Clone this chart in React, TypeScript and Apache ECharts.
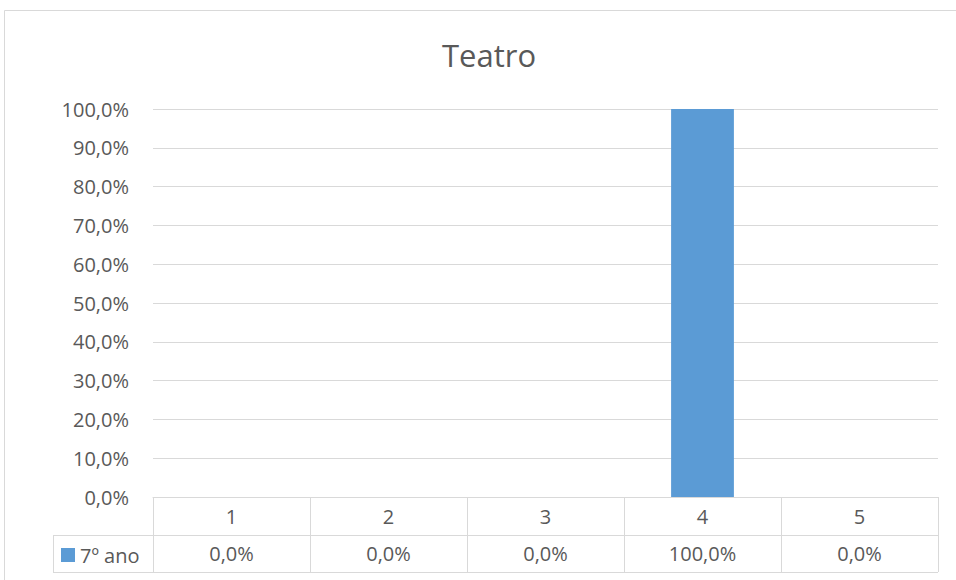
import React, { useEffect, useRef } from "react";
import * as echarts from "echarts";

const title = "Teatro";
const categories = ["1", "2", "3", "4", "5"];
const seriesName = "7º ano";
const values = [0, 0, 0, 1, 0];
const yTicks = [0, 0.1, 0.2, 0.3, 0.4, 0.5, 0.6, 0.7, 0.8, 0.9, 1];

const TEXT = "#595959";
const LINE = "#d9d9d9";
const BAR = "#5b9bd5";
const FONT = "Open Sans";

const fmt = (v: number) => (v * 100).toFixed(1).replace(".", ",") + "%";

export default function App() {
  const ref = useRef<HTMLDivElement>(null);
  useEffect(() => {
    if (!ref.current) return;
    const chart = echarts.init(ref.current, undefined, { renderer: "svg" });
    chart.setOption({
      animation: false,
      backgroundColor: "#ffffff",
      textStyle: { fontFamily: FONT },
      title: {
        text: title,
        left: 437,
        top: 34,
        textStyle: { fontFamily: FONT, fontSize: 31, fontWeight: "normal", color: TEXT },
      },
      legend: {
        left: 61,
        top: 545,
        padding: 0,
        icon: "rect",
        itemWidth: 14,
        itemHeight: 14,
        itemGap: 5,
        textStyle: { fontFamily: FONT, fontSize: 20, color: TEXT, padding: [0, 0, 0, 0] },
        data: [seriesName],
      },
      grid: { left: 153, right: 18, top: 109, bottom: 83 },
      xAxis: [
        {
          type: "category",
          data: categories,
          boundaryGap: true,
          axisLine: { show: true, lineStyle: { color: LINE, width: 1 } },
          axisTick: { show: true, length: 75, lineStyle: { color: LINE, width: 1 } },
          axisLabel: {
            fontFamily: FONT,
            fontSize: 20,
            color: TEXT,
            verticalAlign: "middle",
            margin: 19,
          },
        },
        {
          type: "category",
          data: categories,
          position: "bottom",
          boundaryGap: true,
          axisLine: { show: false },
          axisTick: { show: false },
          axisLabel: {
            fontFamily: FONT,
            fontSize: 20,
            color: TEXT,
            verticalAlign: "middle",
            margin: 56,
            formatter: (_v: string, i: number) => fmt(values[i]),
          },
        },
      ],
      yAxis: {
        type: "value",
        min: yTicks[0],
        max: yTicks[yTicks.length - 1],
        interval: 0.1,
        axisLine: { show: false },
        axisTick: { show: false },
        splitLine: { lineStyle: { color: LINE, width: 1 } },
        axisLabel: {
          fontFamily: FONT,
          fontSize: 20,
          color: TEXT,
          margin: 24,
          formatter: (v: number) => fmt(v),
        },
      },
      series: [
        {
          name: seriesName,
          type: "bar",
          data: values,
          barWidth: "40%",
          itemStyle: { color: BAR },
        },
      ],
      graphic: [
        {
          type: "rect",
          shape: { x: 4.5, y: 10.5, width: 1000, height: 1000 },
          style: { fill: "none", stroke: LINE, lineWidth: 1 },
          silent: true,
          z: -1,
        },
        {
          type: "line",
          shape: { x1: 53, y1: 535.5, x2: 938, y2: 535.5 },
          style: { stroke: LINE, lineWidth: 1 },
          silent: true,
        },
        {
          type: "line",
          shape: { x1: 53, y1: 572.5, x2: 938, y2: 572.5 },
          style: { stroke: LINE, lineWidth: 1 },
          silent: true,
        },
        {
          type: "line",
          shape: { x1: 53.5, y1: 535, x2: 53.5, y2: 573 },
          style: { stroke: LINE, lineWidth: 1 },
          silent: true,
        },
      ],
    });
    return () => chart.dispose();
  }, []);
  return (
    <div
      ref={ref}
      style={{ position: "absolute", left: 0, top: 0, width: 956, height: 580 }}
    />
  );
}
